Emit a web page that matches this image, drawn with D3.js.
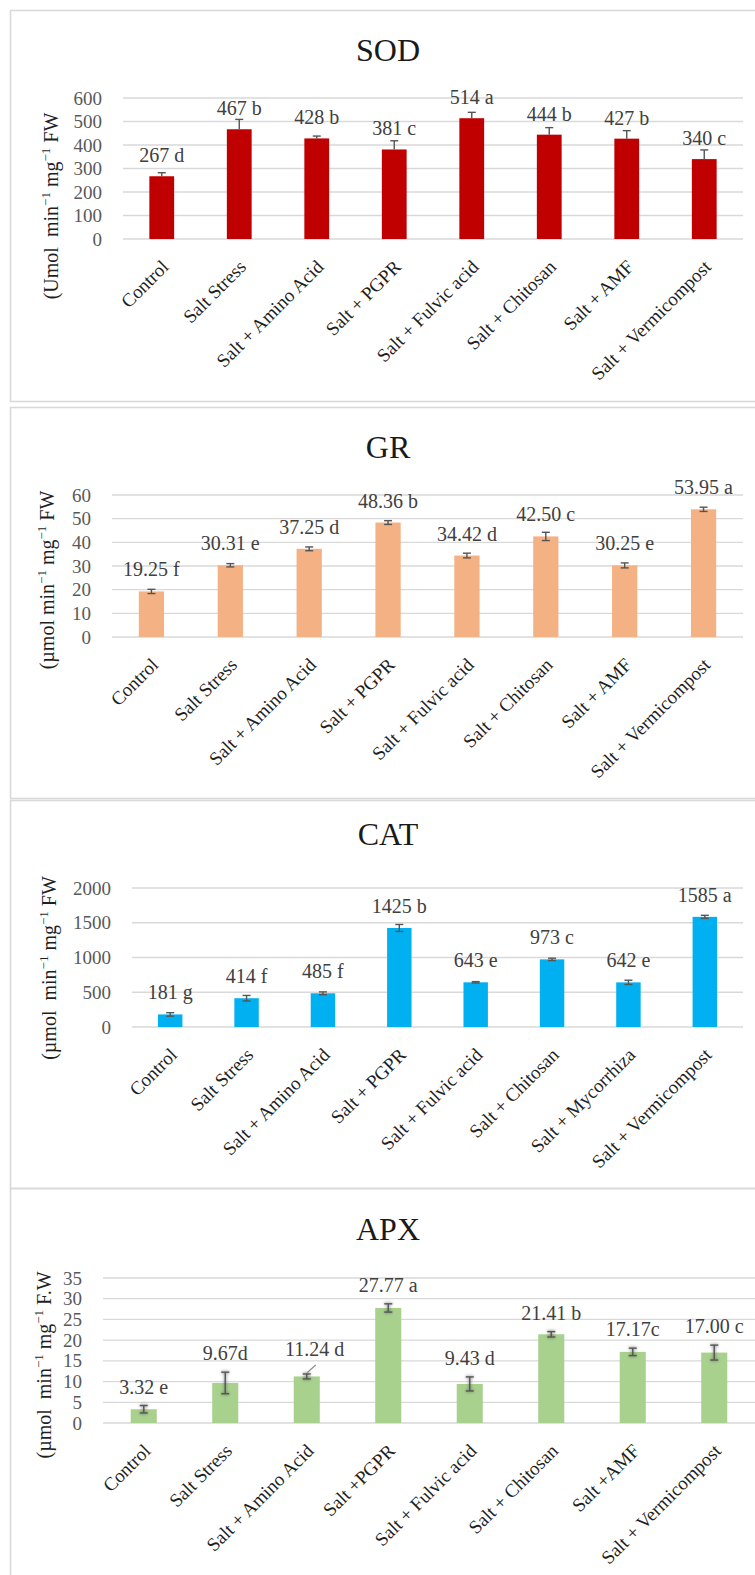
<!DOCTYPE html>
<html>
<head>
<meta charset="utf-8">
<script src="https://cdn.jsdelivr.net/npm/d3@7"></script>
<style>
  body { margin: 0; background: #ffffff; }
  svg text { font-family: "Liberation Serif", "Times New Roman", serif; }
</style>
</head>
<body>
<svg id="fig" width="755" height="1575"></svg>
<script>
// ---- SOD ----
const sodCategories = ["Control", "Salt Stress", "Salt + Amino Acid", "Salt + PGPR",
  "Salt + Fulvic acid", "Salt + Chitosan", "Salt + AMF", "Salt + Vermicompost"];
const sodValues  = [267, 467, 428, 381, 514, 444, 427, 340];
const sodErrors  = [15, 42, 10, 37, 25, 30, 34, 39];
const sodLetters = [" d", " b", " b", " c", " a", " b", " b", " c"];
const sodTicks   = [0, 100, 200, 300, 400, 500, 600];

// ---- GR ----
const grCategories = ["Control", "Salt Stress", "Salt + Amino Acid", "Salt + PGPR",
  "Salt + Fulvic acid", "Salt + Chitosan", "Salt + AMF", "Salt + Vermicompost"];
const grValues  = [19.25, 30.31, 37.25, 48.36, 34.42, 42.50, 30.25, 53.95];
const grErrors  = [0.9, 0.7, 0.8, 0.8, 1.0, 1.75, 1.05, 0.9];
const grLetters = [" f", " e", " d", " b", " d", " c", " e", " a"];
const grTicks   = [0, 10, 20, 30, 40, 50, 60];

// ---- CAT ----
const catCategories = ["Control", "Salt Stress", "Salt + Amino Acid", "Salt + PGPR",
  "Salt + Fulvic acid", "Salt + Chitosan", "Salt + Mycorrhiza", "Salt + Vermicompost"];
const catValues  = [181, 414, 485, 1425, 643, 973, 642, 1585];
const catErrors  = [25, 40, 20, 50, 10, 17, 31, 22];
const catLetters = [" g", " f", " f", " b", " e", " c", " e", " a"];
const catTicks   = [0, 500, 1000, 1500, 2000];

// ---- APX ----
const apxCategories = ["Control", "Salt Stress", "Salt + Amino Acid", "Salt +PGPR",
  "Salt + Fulvic acid", "Salt + Chitosan", "Salt +AMF", "Salt + Vermicompost"];
const apxValues  = [3.32, 9.67, 11.24, 27.77, 9.43, 21.41, 17.17, 17.00];
const apxErrors  = [0.9, 2.6, 0.6, 1.0, 1.7, 0.65, 0.9, 1.8];
const apxLetters = [" e", "d", " d", " a", " d", " b", "c", " c"];
const apxTicks   = [0, 5, 10, 15, 20, 25, 30, 35];
const apxLeaders = ["Salt + Amino Acid"];

const panels = [
  {
    title: "SOD", categories: sodCategories, values: sodValues, errors: sodErrors,
    letters: sodLetters, ticks: sodTicks, decimals: 0, color: "#c00000",
    yTitle: [["(Umol  min", 0], ["\u22121", 1], [" mg", 0], ["\u22121", 1], [" FW", 0]],
    box: { top: 10, bottom: 401 },
    plot: { left: 123, right: 743, top: 98, bottom: 239 },
    titleY: 61, yTitleX: 58, yTitleY: 206,
    plusOnly: true, labelFrom: "bar", labelGap: 14, leaders: []
  },
  {
    title: "GR", categories: grCategories, values: grValues, errors: grErrors,
    letters: grLetters, ticks: grTicks, decimals: 2, color: "#f4b183",
    yTitle: [["(\u00b5mol min", 0], ["\u22121", 1], [" mg", 0], ["\u22121", 1], [" FW", 0]],
    box: { top: 407, bottom: 798 },
    plot: { left: 112, right: 743, top: 495, bottom: 637 },
    titleY: 458, yTitleX: 54, yTitleY: 580,
    plusOnly: false, labelFrom: "bar", labelGap: 15, leaders: []
  },
  {
    title: "CAT", categories: catCategories, values: catValues, errors: catErrors,
    letters: catLetters, ticks: catTicks, decimals: 0, color: "#00b0f0",
    yTitle: [["(\u00b5mol  min", 0], ["\u22121", 1], [" mg", 0], ["\u22121", 1], [" FW", 0]],
    box: { top: 800, bottom: 1188 },
    plot: { left: 132, right: 743, top: 888, bottom: 1027 },
    titleY: 845, yTitleX: 56, yTitleY: 968,
    plusOnly: false, labelFrom: "bar", labelGap: 15, leaders: []
  },
  {
    title: "APX", categories: apxCategories, values: apxValues, errors: apxErrors,
    letters: apxLetters, ticks: apxTicks, decimals: 2, color: "#a9d18e",
    yTitle: [["(\u00b5mol  min", 0], ["\u22121", 1], [" mg", 0], ["\u22121", 1], [" F.W", 0]],
    box: { top: 1188, bottom: 1600 },
    plot: { left: 103, right: 755, top: 1278, bottom: 1423 },
    titleY: 1240, yTitleX: 51, yTitleY: 1365,
    plusOnly: false, labelFrom: "error", labelGap: 12, leaders: apxLeaders, soft: true
  }
];

const svg = d3.select("#fig");
const FONT = '"Liberation Serif", "Times New Roman", serif';

// soft halo used behind the APX error bars
const defs = svg.append("defs");
defs.append("filter").attr("id", "soft").attr("x", "-50%").attr("y", "-50%")
  .attr("width", "200%").attr("height", "200%")
  .append("feGaussianBlur").attr("stdDeviation", 1.6);

function drawPanel(p) {
  const g = svg.append("g");

  // panel frame
  g.append("rect")
    .attr("x", 10.5).attr("y", p.box.top + 0.5)
    .attr("width", 760).attr("height", p.box.bottom - p.box.top)
    .attr("fill", "none").attr("stroke", "#d9d9d9").attr("stroke-width", 1.6);

  const x = d3.scaleBand().domain(p.categories)
    .range([p.plot.left, p.plot.right]).paddingInner(0.68).paddingOuter(0.34);
  const y = d3.scaleLinear().domain([0, d3.max(p.ticks)])
    .range([p.plot.bottom, p.plot.top]);
  const bw = x.bandwidth();

  // title
  g.append("text").attr("x", 388).attr("y", p.titleY)
    .attr("text-anchor", "middle").attr("font-size", 32).attr("fill", "#1a1a1a")
    .text(p.title);

  // horizontal gridlines
  g.append("g").selectAll("line").data(p.ticks).join("line")
    .attr("x1", p.plot.left).attr("x2", p.plot.right)
    .attr("y1", d => y(d)).attr("y2", d => y(d))
    .attr("stroke", "#d9d9d9").attr("stroke-width", 1.3);

  // value axis
  const ya = g.append("g").attr("transform", `translate(${p.plot.left},0)`)
    .call(d3.axisLeft(y).tickValues(p.ticks).tickSize(0).tickPadding(21).tickFormat(d3.format("d")));
  ya.attr("font-family", null);
  ya.select(".domain").remove();
  ya.selectAll("text").attr("font-size", 19).attr("fill", "#595959");

  // category axis, labels slanted
  const xa = g.append("g").attr("transform", `translate(0,${p.plot.bottom})`)
    .call(d3.axisBottom(x).tickSize(0));
  xa.attr("font-family", null);
  xa.select(".domain").remove();
  xa.selectAll("text")
    .attr("font-size", 19).attr("fill", "#1f1f1f")
    .attr("text-anchor", "end").attr("y", 0).attr("dy", 0)
    .attr("transform", "translate(8,29) rotate(-45)");

  const rows = p.categories.map((c, i) => ({
    c, v: p.values[i], e: p.errors[i], lab: p.values[i].toFixed(p.decimals) + p.letters[i]
  }));

  // bars
  g.append("g").selectAll("rect").data(rows).join("rect")
    .attr("x", d => x(d.c)).attr("width", bw)
    .attr("y", d => y(d.v)).attr("height", d => y(0) - y(d.v))
    .attr("fill", p.color);

  // error bars
  const lo = d => p.plusOnly ? d.v : d.v - d.e;
  const hi = d => d.v + d.e;
  const cap = 4;
  function errPaths(sel) {
    sel.append("line").attr("x1", d => x(d.c) + bw / 2).attr("x2", d => x(d.c) + bw / 2)
      .attr("y1", d => y(lo(d))).attr("y2", d => y(hi(d)));
    sel.append("line").attr("x1", d => x(d.c) + bw / 2 - cap).attr("x2", d => x(d.c) + bw / 2 + cap)
      .attr("y1", d => y(hi(d))).attr("y2", d => y(hi(d)));
    sel.filter(() => !p.plusOnly).append("line")
      .attr("x1", d => x(d.c) + bw / 2 - cap).attr("x2", d => x(d.c) + bw / 2 + cap)
      .attr("y1", d => y(lo(d))).attr("y2", d => y(lo(d)));
  }
  if (p.soft) {
    const halo = g.append("g").attr("stroke", "#555").attr("stroke-width", 3)
      .attr("opacity", 0.45).attr("filter", "url(#soft)")
      .selectAll("g").data(rows).join("g");
    errPaths(halo);
  }
  const eb = g.append("g").attr("stroke", "#555555").attr("stroke-width", 1.4)
    .selectAll("g").data(rows).join("g");
  errPaths(eb);

  // value labels with significance letters
  const labelY = d => (p.labelFrom === "error" ? y(hi(d)) : y(d.v)) - p.labelGap;
  g.append("g").selectAll("text").data(rows).join("text")
    .attr("x", d => x(d.c) + bw / 2 + (p.leaders.includes(d.c) ? 8 : 0))
    .attr("y", d => labelY(d) - (p.leaders.includes(d.c) ? 6 : 0))
    .attr("text-anchor", "middle").attr("font-size", 20).attr("fill", "#404040")
    .text(d => d.lab);

  // leader lines for labels lifted off their bar
  g.append("g").selectAll("line").data(rows.filter(d => p.leaders.includes(d.c))).join("line")
    .attr("x1", d => x(d.c) + bw / 2).attr("y1", d => y(hi(d)) - 1)
    .attr("x2", d => x(d.c) + bw / 2 + 9).attr("y2", d => labelY(d) + 3)
    .attr("stroke", "#8c8c8c").attr("stroke-width", 1.2);

  // value-axis title with superscripts
  const yt = g.append("text")
    .attr("transform", `translate(${p.yTitleX},${p.yTitleY}) rotate(-90)`)
    .attr("text-anchor", "middle").attr("font-size", 20).attr("fill", "#1f1f1f")
    .style("white-space", "pre");
  let shifted = false;
  p.yTitle.forEach(([t, sup]) => {
    const ts = yt.append("tspan").text(t);
    if (sup && !shifted) { ts.attr("dy", -8).attr("font-size", 13); shifted = true; }
    else if (sup) { ts.attr("font-size", 13); }
    else if (shifted) { ts.attr("dy", 8); shifted = false; }
  });
}

panels.forEach(drawPanel);
</script>
</body>
</html>
